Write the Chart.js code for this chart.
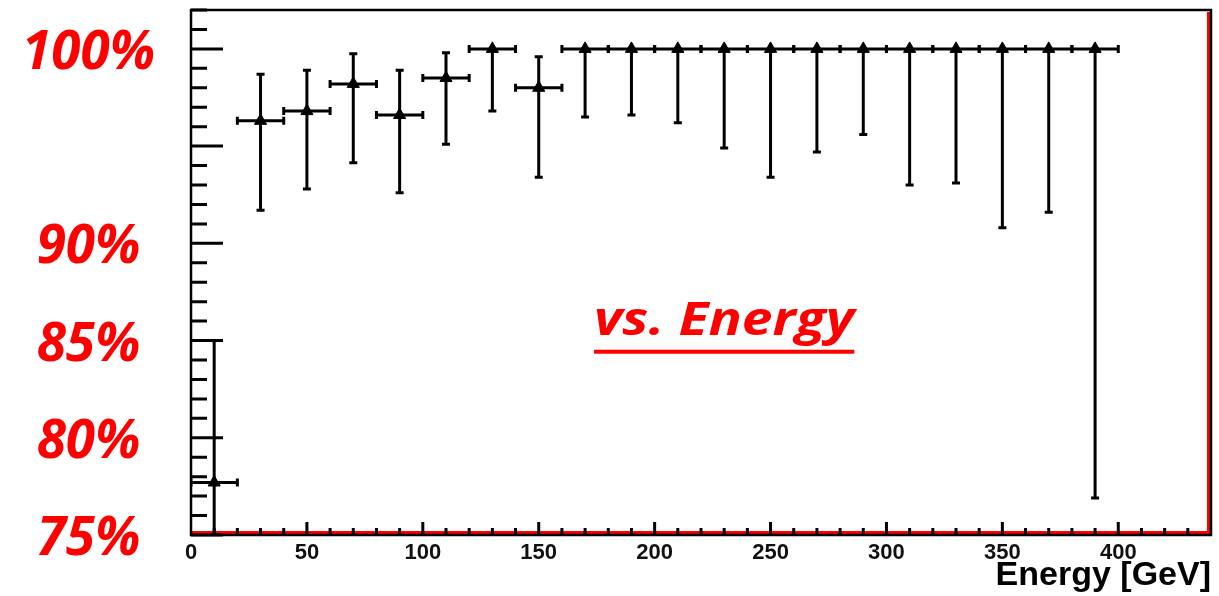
<!DOCTYPE html>
<html>
<head>
<meta charset="utf-8">
<script src="https://cdn.jsdelivr.net/npm/chart.js@4"></script>
<style>body{margin:0;background:#fff}</style>
</head>
<body>
<canvas id="effChart" width="1219" height="596"></canvas>
<script>
// Bin centres in GeV (bins are 20 GeV wide)
const energy = [10, 30, 50, 70, 90, 110, 130, 150, 170, 190, 210, 230, 250, 270, 290, 310, 330, 350, 370, 390];
const binHalfWidth = 10;
// Efficiency in %
const efficiency = [77.7, 96.3, 96.8, 98.2, 96.6, 98.5, 100, 98.0, 100, 100, 100, 100, 100, 100, 100, 100, 100, 100, 100, 100];
// Lower and upper ends of the error bars in %
const errLow = [70, 91.7, 92.8, 94.15, 92.6, 95.1, 96.8, 93.4, 96.5, 96.6, 96.2, 94.9, 93.4, 94.7, 95.6, 93.0, 93.1, 90.8, 91.6, 76.9];
const errHigh = [85.0, 98.7, 98.9, 99.75, 98.9, 99.8, 100, 99.6, 100, 100, 100, 100, 100, 100, 100, 100, 100, 100, 100, 100];
// Tick labels
const yLabels = [75, 80, 85, 90, 100];
const xLabels = [0, 50, 100, 150, 200, 250, 300, 350, 400];

// frame, inward ticks and red edge lines (ROOT style)
const frame = {
  id: 'frame',
  beforeDatasetsDraw(chart) {
    const {ctx, chartArea: a, scales: {x, y}} = chart;
    ctx.save();
    ctx.strokeStyle = '#f00';
    ctx.lineWidth = 3;
    ctx.beginPath();
    ctx.moveTo(a.left, a.bottom - 2.5); ctx.lineTo(a.right - 2.5, a.bottom - 2.5);
    ctx.lineTo(a.right - 2.5, a.top + 2);
    ctx.stroke();

    ctx.strokeStyle = '#000';
    ctx.lineWidth = 3;
    ctx.beginPath();
    for (let v = 75; v <= 102; v++) {
      const py = y.getPixelForValue(v);
      ctx.moveTo(a.left, py); ctx.lineTo(a.left + (v % 5 === 0 ? 32 : 16), py);
    }
    for (let v = 10; v < 440; v += 10) {
      const px = x.getPixelForValue(v);
      ctx.moveTo(px, a.bottom); ctx.lineTo(px, a.bottom - (v % 50 === 0 ? 13 : 7));
    }
    ctx.stroke();

    ctx.lineWidth = 2.5;
    ctx.strokeRect(a.left, a.top, a.right - a.left, a.bottom - a.top);
    ctx.restore();
  }
};

// horizontal bin bars and vertical error bars
const errorBars = {
  id: 'errorBars',
  beforeDatasetsDraw(chart) {
    const {ctx, chartArea: a, scales: {x, y}} = chart;
    ctx.save();
    ctx.beginPath();
    ctx.rect(a.left, a.top, a.right - a.left, a.bottom - a.top);
    ctx.clip();
    ctx.strokeStyle = '#000';
    ctx.lineWidth = 3;
    energy.forEach((e, i) => {
      const px = x.getPixelForValue(e);
      const py = y.getPixelForValue(efficiency[i]);
      const x0 = x.getPixelForValue(e - binHalfWidth);
      const x1 = x.getPixelForValue(e + binHalfWidth);
      const yLo = y.getPixelForValue(errLow[i]);
      const yHi = y.getPixelForValue(errHigh[i]);
      ctx.beginPath();
      ctx.moveTo(x0, py); ctx.lineTo(x1, py);
      ctx.moveTo(x0, py - 4); ctx.lineTo(x0, py + 4);
      ctx.moveTo(x1, py - 4); ctx.lineTo(x1, py + 4);
      ctx.moveTo(px, yHi); ctx.lineTo(px, yLo);
      if (errHigh[i] > efficiency[i]) { ctx.moveTo(px - 4, yHi); ctx.lineTo(px + 4, yHi); }
      ctx.moveTo(px - 4, yLo); ctx.lineTo(px + 4, yLo);
      ctx.stroke();
    });
    ctx.restore();
  }
};

// "vs. Energy" note inside the plot
const note = {
  id: 'note',
  afterDraw(chart) {
    const {ctx, scales: {x, y}} = chart;
    const cx = x.getPixelForValue(230);
    const by = y.getPixelForValue(85.3);
    ctx.save();
    ctx.font = 'italic bold 46px "Open Sans"';
    ctx.fillStyle = '#f00';
    ctx.textAlign = 'center';
    ctx.textBaseline = 'alphabetic';
    ctx.translate(cx, by);
    ctx.scale(1.2, 1);
    ctx.fillText('vs. Energy', 0, 0);
    const w = ctx.measureText('vs. Energy').width;
    ctx.fillRect(-w / 2, 15, w, 4);
    ctx.restore();
  }
};

const noPad = s => { s.paddingTop = 0; s.paddingBottom = 0; s.paddingLeft = 0; s.paddingRight = 0; };

new Chart(document.getElementById('effChart'), {
  type: 'scatter',
  data: {
    datasets: [{
      data: energy.map((e, i) => ({x: e, y: efficiency[i]})),
      pointStyle: 'triangle',
      pointRadius: 7,
      backgroundColor: '#000',
      borderColor: '#000',
      borderWidth: 1
    }]
  },
  options: {
    responsive: false,
    animation: false,
    layout: { padding: { top: 10, right: 7, left: 0, bottom: 0 } },
    plugins: { legend: { display: false }, tooltip: { enabled: false } },
    scales: {
      x: {
        type: 'linear',
        min: 0,
        max: 440,
        afterFit: s => { noPad(s); s.height = 61; },
        afterBuildTicks: s => { s.ticks = xLabels.map(v => ({value: v})); },
        grid: { drawOnChartArea: false, drawTicks: false },
        border: { display: false },
        ticks: { color: '#111', padding: 5, font: { family: 'Liberation Sans', weight: 'bold', size: 22 } },
        title: {
          display: true,
          text: 'Energy [GeV]',
          align: 'end',
          color: '#000',
          padding: 0,
          font: { family: 'Liberation Sans', weight: 'bold', size: 34 }
        }
      },
      y: {
        min: 75,
        max: 102,
        afterFit: s => { noPad(s); s.width = 191; },
        afterBuildTicks: s => { s.ticks = yLabels.map(v => ({value: v})); },
        grid: { drawOnChartArea: false, drawTicks: false },
        border: { display: false },
        ticks: {
          color: '#f00',
          padding: 36,
          crossAlign: 'center',
          labelOffset: 5,
          callback: v => v + '%',
          font: { family: 'Open Sans', style: 'italic', weight: 'bold', size: 53 }
        }
      }
    }
  },
  plugins: [frame, errorBars, note]
});
</script>
</body>
</html>
